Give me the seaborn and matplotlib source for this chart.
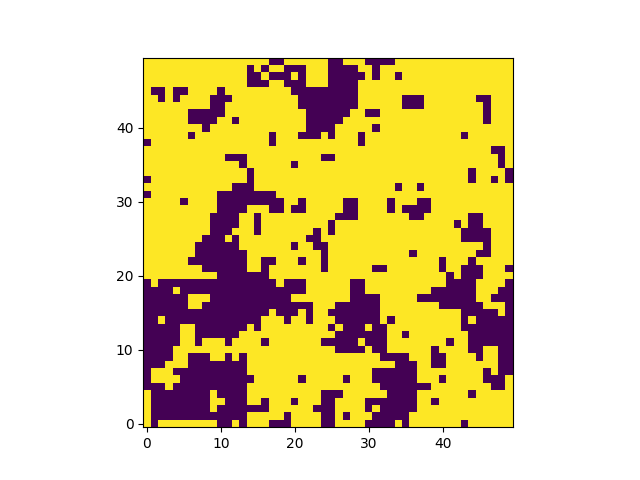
import numpy as np
import matplotlib
matplotlib.use("Agg")
import matplotlib.pyplot as plt
import seaborn as sns

n_cells = 50
tick_values = [0, 10, 20, 30, 40]

# dark runs (first col, last col) per row, from row 49 at the top down to row 0
dark_runs = [
    [(17, 18), (25, 26), (30, 33)],
    [(14, 14), (16, 16), (19, 21), (25, 28), (31, 31)],
    [(14, 15), (17, 19), (21, 21), (25, 29), (31, 31), (34, 34)],
    [(14, 16), (19, 21), (25, 28)],
    [(1, 2), (4, 5), (10, 10), (20, 28)],
    [(2, 2), (4, 4), (9, 11), (21, 28), (35, 37), (45, 46)],
    [(9, 10), (21, 28), (35, 37), (46, 46)],
    [(6, 10), (22, 27), (30, 31), (46, 46)],
    [(6, 9), (12, 12), (22, 26), (46, 46)],
    [(8, 8), (22, 25), (31, 31)],
    [(6, 6), (17, 17), (21, 23), (25, 25), (29, 29), (43, 43)],
    [(0, 0), (17, 17), (29, 29)],
    [(47, 48)],
    [(11, 13), (24, 25), (48, 48)],
    [(13, 13), (20, 20), (48, 48)],
    [(14, 14), (44, 44), (49, 49)],
    [(0, 0), (14, 14), (44, 44), (47, 47), (49, 49)],
    [(12, 14), (34, 34), (37, 37)],
    [(0, 0), (10, 17)],
    [(5, 5), (10, 18), (21, 21), (27, 28), (33, 33), (37, 38)],
    [(10, 13), (17, 18), (20, 21), (27, 28), (33, 33), (35, 38)],
    [(9, 12), (15, 15), (26, 28), (36, 37), (44, 45)],
    [(9, 12), (15, 15), (25, 25), (42, 42), (44, 45)],
    [(9, 11), (15, 15), (23, 23), (25, 25), (43, 46)],
    [(8, 10), (12, 12), (22, 23), (43, 46)],
    [(7, 12), (20, 20), (23, 24), (46, 46)],
    [(7, 13), (24, 24), (36, 36), (45, 46)],
    [(6, 13), (16, 17), (21, 21), (24, 24), (40, 40), (44, 44)],
    [(8, 13), (16, 16), (24, 24), (31, 32), (40, 40), (43, 45), (49, 49)],
    [(10, 16), (41, 41), (43, 45)],
    [(0, 0), (2, 17), (19, 21), (28, 29), (41, 44), (49, 49)],
    [(0, 3), (5, 21), (28, 29), (39, 44), (48, 49)],
    [(0, 5), (9, 19), (28, 31), (37, 44), (47, 49)],
    [(0, 5), (8, 22), (26, 31), (40, 45), (49, 49)],
    [(0, 16), (18, 20), (22, 22), (25, 31), (43, 47), (49, 49)],
    [(0, 1), (3, 15), (19, 19), (22, 22), (26, 31), (33, 33), (43, 43), (45, 49)],
    [(0, 4), (7, 13), (15, 15), (25, 25), (27, 29), (31, 32), (43, 49)],
    [(0, 4), (7, 12), (26, 32), (35, 35), (44, 49)],
    [(0, 4), (7, 7), (11, 11), (16, 16), (24, 28), (30, 32), (41, 41), (44, 49)],
    [(0, 3), (26, 29), (31, 32), (39, 39), (44, 45), (48, 49)],
    [(0, 3), (6, 8), (11, 11), (13, 13), (32, 35), (39, 40), (45, 45), (48, 49)],
    [(0, 2), (6, 13), (34, 36), (39, 40), (48, 49)],
    [(0, 0), (4, 13), (31, 36), (46, 46), (48, 49)],
    [(0, 0), (5, 14), (21, 21), (27, 27), (31, 36), (40, 40), (46, 48)],
    [(0, 2), (4, 13), (32, 38), (47, 48)],
    [(1, 8), (10, 13), (24, 26), (33, 36), (44, 44)],
    [(1, 8), (11, 13), (16, 16), (20, 20), (24, 25), (30, 36), (39, 39)],
    [(1, 8), (10, 16), (23, 25), (30, 30), (32, 36)],
    [(1, 13), (19, 19), (24, 25), (27, 27), (31, 35)],
    [(1, 1), (10, 11), (13, 13), (17, 19), (24, 25), (30, 33), (35, 35), (43, 43)],
]

grid = np.ones((n_cells, n_cells))
for row, runs in zip(range(n_cells - 1, -1, -1), dark_runs):
    for first, last in runs:
        grid[row, first:last + 1] = 0

fig, ax = plt.subplots(figsize=(6.4, 4.8), dpi=100)
sns.heatmap(grid, cmap="viridis", cbar=False, square=True, ax=ax,
            xticklabels=False, yticklabels=False)
ax.invert_yaxis()

# cells span i..i+1 in heatmap coordinates, so ticks sit at the centres
ax.set_xticks([v + 0.5 for v in tick_values])
ax.set_yticks([v + 0.5 for v in tick_values])
ax.set_xticklabels(tick_values, rotation=0)
ax.set_yticklabels(tick_values, rotation=0)
ax.tick_params(length=3.5, width=0.8, labelsize=10)
for spine in ax.spines.values():
    spine.set_visible(True)
    spine.set_linewidth(0.8)

fig.savefig("out.png", dpi=100)
